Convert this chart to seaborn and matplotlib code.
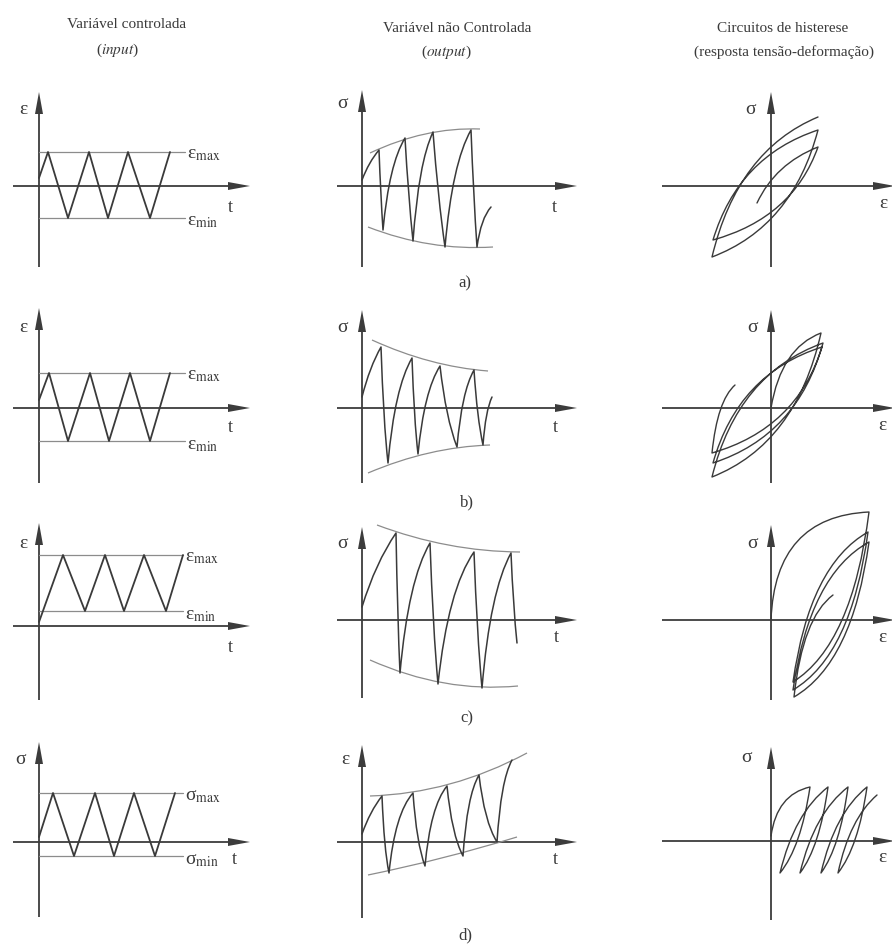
import matplotlib
matplotlib.use("Agg")
import matplotlib.pyplot as plt
import seaborn as sns
from matplotlib.path import Path
from matplotlib.patches import PathPatch

# ---------------- data (pixel-like units, origin at axis cross) -------------
# column 1 : controlled variable (triangle waves) : vertex times and levels
in_a_t = [0, 9, 29, 50, 69, 89, 111, 131]
in_a_y = [8, 34, -32, 34, -32, 34, -32, 34]
in_b_t = [0, 10, 29, 51, 70, 91, 111, 131]
in_b_y = [8, 35, -33, 35, -33, 35, -33, 35]
in_c_t = [0, 24, 46, 66, 85, 105, 127, 144]
in_c_y = [4, 71, 15, 71, 15, 71, 15, 71]
in_d_t = [0, 14, 35, 56, 75, 95, 116, 136]
in_d_y = [5, 49, -14, 49, -14, 49, -14, 49]
in_levels = [(34, -32), (35, -33), (71, 15), (49, -14)]
in_level_len = [146, 146, 144, 144]
in_ylabels = ["ε", "ε", "ε", "σ"]
in_max_labels = [r"ε$_{\rm max}$", r"ε$_{\rm max}$", r"ε$_{\rm max}$", r"σ$_{\rm max}$"]
in_min_labels = [r"ε$_{\rm min}$", r"ε$_{\rm min}$", r"ε$_{\rm min}$", r"σ$_{\rm min}$"]

# column 2 : uncontrolled variable (response vs time) : peaks / troughs
out_a_t = [0, 17, 21, 43, 51, 71, 83, 109, 115, 129]
out_a_y = [6, 36, -44, 48, -55, 54, -61, 56, -61, -21]
out_b_t = [0, 19, 26, 50, 56, 78, 95, 112, 121, 130]
out_b_y = [11, 61, -55, 50, -46, 42, -39, 38, -37, 11]
out_c_t = [0, 34, 38, 68, 76, 112, 120, 149, 155]
out_c_y = [13, 87, -53, 77, -64, 68, -68, 67, -23]
out_d_t = [0, 20, 27, 51, 63, 85, 101, 117, 135, 150]
out_d_y = [8, 46, -31, 49, -24, 56, -14, 67, 0, 82]
# envelopes : start, middle, end
env_up_x = [[8, 63, 118], [10, 68, 126], [15, 86, 158], [8, 88, 165]]
env_up_y = [[33, 52, 57], [68, 47, 37], [95, 75, 68], [46, 58, 89]]
env_lo_x = [[6, 68, 131], [6, 67, 128], [8, 82, 156], [6, 80, 155]]
env_lo_y = [[-41, -58, -61], [-65, -45, -37], [-40, -63, -66], [-33, -16, 5]]
out_ylabels = ["σ", "σ", "σ", "ε"]

# column 3 : hysteresis loops (strain, stress) turning points
loop_a_e = [-14, 47, -58, 47, -59, 47]
loop_a_s = [-17, 39, -54, 56, -71, 69]
loop_b_e = [0, 50, -59, 52, -58, 51, -59, -36]
loop_b_s = [0, 75, -69, 65, -55, 61, -45, 23]
loop_c_e = [0, 98, 22, 97, 22, 98, 23, 62]
loop_c_s = [0, 108, -62, 88, -70, 78, -77, 25]
loop_d_e = [0, 39, 9, 57, 29, 77, 50, 96, 67, 106]
loop_d_s = [5, 54, -32, 54, -32, 54, -32, 54, -32, 46]

row_tags = ["a)", "b)", "c)", "d)"]

# ---------------- layout -------------
W, H = 892, 944
col_x = [39, 362, 771]
row_y = [[186, 408, 626, 842], [186, 408, 620, 842], [186, 408, 620, 841]]
h_ext = [(-26, 211), (-25, 215), (-109, 124)]
v_ext = [[(94, 81), (100, 75), (103, 74), (100, 75)],
         [(96, 81), (98, 75), (93, 78), (97, 76)],
         [(94, 81), (98, 75), (95, 80), (94, 79)]]
tag_pos = [(465, 283), (467, 502), (467, 718), (465, 935)]

AX_C = "#3c3c3c"
LN_C = "#3a3a3a"
GR_C = "#8c8c8c"
TX_C = "#3a3a3a"

sns.set_theme(style="white")
plt.rcParams["font.family"] = ["Liberation Serif", "DejaVu Serif"]
plt.rcParams["mathtext.fontset"] = "stix"

fig = plt.figure(figsize=(W / 100, H / 100), dpi=100)
L, R, T, B = 130, 240, 125, 100


def panel(ox, oy):
    ax = fig.add_axes([(ox - L) / W, 1 - (oy + B) / H, (L + R) / W, (T + B) / H])
    ax.set_xlim(-L, R)
    ax.set_ylim(-B, T)
    ax.axis("off")
    return ax


def axes_arrows(ax, hx, vy):
    ax.arrow(hx[0], 0, hx[1] - hx[0], 0, width=1.8, head_width=8, head_length=22,
             length_includes_head=True, color=AX_C, lw=0, clip_on=False)
    ax.arrow(0, -vy[1], 0, vy[0] + vy[1], width=1.8, head_width=8, head_length=22,
             length_includes_head=True, color=AX_C, lw=0, clip_on=False)


def curve(ax, xs, ys, bends, color=LN_C, lw=1.1):
    verts = [(xs[0], ys[0])]
    codes = [Path.MOVETO]
    for i in range(1, len(xs)):
        a, b = bends(i, xs[i - 1], ys[i - 1], xs[i], ys[i])
        x0, y0, x1, y1 = xs[i - 1], ys[i - 1], xs[i], ys[i]
        verts += [(x0 + a * (x1 - x0), y0 + b * (y1 - y0)), (x1, y1)]
        codes += [Path.CURVE3, Path.CURVE3]
    ax.add_patch(PathPatch(Path(verts, codes), fc="none", ec=color, lw=lw,
                           capstyle="round", joinstyle="round", clip_on=False))


def envelope(ax, xs, ys):
    cx = 2 * xs[1] - 0.5 * (xs[0] + xs[2])
    cy = 2 * ys[1] - 0.5 * (ys[0] + ys[2])
    p = Path([(xs[0], ys[0]), (cx, cy), (xs[2], ys[2])], [Path.MOVETO, Path.CURVE3, Path.CURVE3])
    ax.add_patch(PathPatch(p, fc="none", ec=GR_C, lw=0.9, clip_on=False))


def txt(ax, x, y, s, size=13, ha="center", va="center", **kw):
    ax.text(x, y, s, ha=ha, va=va, fontsize=size, color=TX_C, clip_on=False, **kw)


# ---------------- column 1 -------------
in_t = [in_a_t, in_b_t, in_c_t, in_d_t]
in_y = [in_a_y, in_b_y, in_c_y, in_d_y]
ylab_pos1 = [(-16, 76), (-16, 80), (-16, 83), (-19, 82)]
t_pos1 = [(191, -21), (191, -19), (191, -21), (195, -18)]
for r in range(4):
    ax = panel(col_x[0], row_y[0][r])
    axes_arrows(ax, h_ext[0], v_ext[0][r])
    hi, lo = in_levels[r]
    ln = in_level_len[r]
    sns.lineplot(x=[0, ln], y=[hi, hi], ax=ax, color=GR_C, linewidth=0.9, legend=False)
    sns.lineplot(x=[0, ln], y=[lo, lo], ax=ax, color=GR_C, linewidth=0.9, legend=False)
    sns.lineplot(x=in_t[r], y=in_y[r], ax=ax, sort=False, estimator=None,
                 color=LN_C, linewidth=1.3, legend=False)
    ax.set_xlim(-L, R)
    ax.set_ylim(-B, T)
    ax.axis("off")
    txt(ax, *ylab_pos1[r], in_ylabels[r], size=14)
    txt(ax, ln + 2, hi - 3, in_max_labels[r], size=14, ha="left")
    txt(ax, ln + 2, lo - 4, in_min_labels[r], size=14, ha="left")
    txt(ax, *t_pos1[r], "t", size=13)

# ---------------- column 2 -------------
out_t = [out_a_t, out_b_t, out_c_t, out_d_t]
out_y = [out_a_y, out_b_y, out_c_y, out_d_y]
rise_b = [(0.28, 0.72), (0.28, 0.72), (0.28, 0.72), (0.25, 0.75)]
fall_b = [(0.42, 0.58), (0.35, 0.65), (0.38, 0.62), (0.3, 0.7)]
ylab_pos2 = [(-19, 83), (-19, 80), (-19, 77), (-17, 82)]
t_pos2 = [(192, -21), (193, -20), (194, -18), (193, -18)]
for r in range(4):
    ax = panel(col_x[1], row_y[1][r])
    axes_arrows(ax, h_ext[1], v_ext[1][r])
    envelope(ax, env_up_x[r], env_up_y[r])
    envelope(ax, env_lo_x[r], env_lo_y[r])

    def bend(i, x0, y0, x1, y1, r=r):
        if i == 1:
            return (0.4, 0.6)
        return rise_b[r] if y1 > y0 else fall_b[r]

    curve(ax, out_t[r], out_y[r], bend, lw=1.1)
    txt(ax, *ylab_pos2[r], out_ylabels[r], size=14)
    txt(ax, *t_pos2[r], "t", size=13)

# ---------------- column 3 -------------
loops_e = [loop_a_e, loop_b_e, loop_c_e, loop_d_e]
loops_s = [loop_a_s, loop_b_s, loop_c_s, loop_d_s]
first_b = [(0.3, 0.7), (0.2, 0.8), (0.04, 0.96), (0.15, 0.85)]
loop_b = [(0.24, 0.76), (0.23, 0.77), (0.22, 0.78), (0.3, 0.7)]
ylab_pos3 = [(-21, 76), (-18, 81), (-18, 77), (-24, 83)]
e_pos3 = [(112, -17), (111, -17), (111, -17), (111, -16)]
for r in range(4):
    ax = panel(col_x[2], row_y[2][r])
    axes_arrows(ax, h_ext[2], v_ext[2][r])

    def bend(i, x0, y0, x1, y1, r=r):
        return first_b[r] if i == 1 else loop_b[r]

    curve(ax, loops_e[r], loops_s[r], bend, lw=1.0)
    txt(ax, *ylab_pos3[r], "σ", size=14)
    txt(ax, *e_pos3[r], "ε", size=14)

# ---------------- titles and tags -------------
fig.text(127 / W, 1 - 24 / H, "Variável controlada", ha="center", va="center", fontsize=11, color=TX_C)
fig.text(117 / W, 1 - 50 / H, r"($\mathit{input}$)", ha="center", va="center", fontsize=11, color=TX_C)
fig.text(457 / W, 1 - 28 / H, "Variável não Controlada", ha="center", va="center", fontsize=11, color=TX_C)
fig.text(446 / W, 1 - 52 / H, r"($\mathit{output}$)", ha="center", va="center", fontsize=11, color=TX_C)
fig.text(783 / W, 1 - 28 / H, "Circuitos de histerese", ha="center", va="center", fontsize=11, color=TX_C)
fig.text(784 / W, 1 - 52 / H, "(resposta tensão-deformação)", ha="center", va="center", fontsize=11, color=TX_C)
for tag, (x, y) in zip(row_tags, tag_pos):
    fig.text(x / W, 1 - y / H, tag, ha="center", va="center", fontsize=12, color=TX_C)

fig.savefig("out.png", dpi=100)
